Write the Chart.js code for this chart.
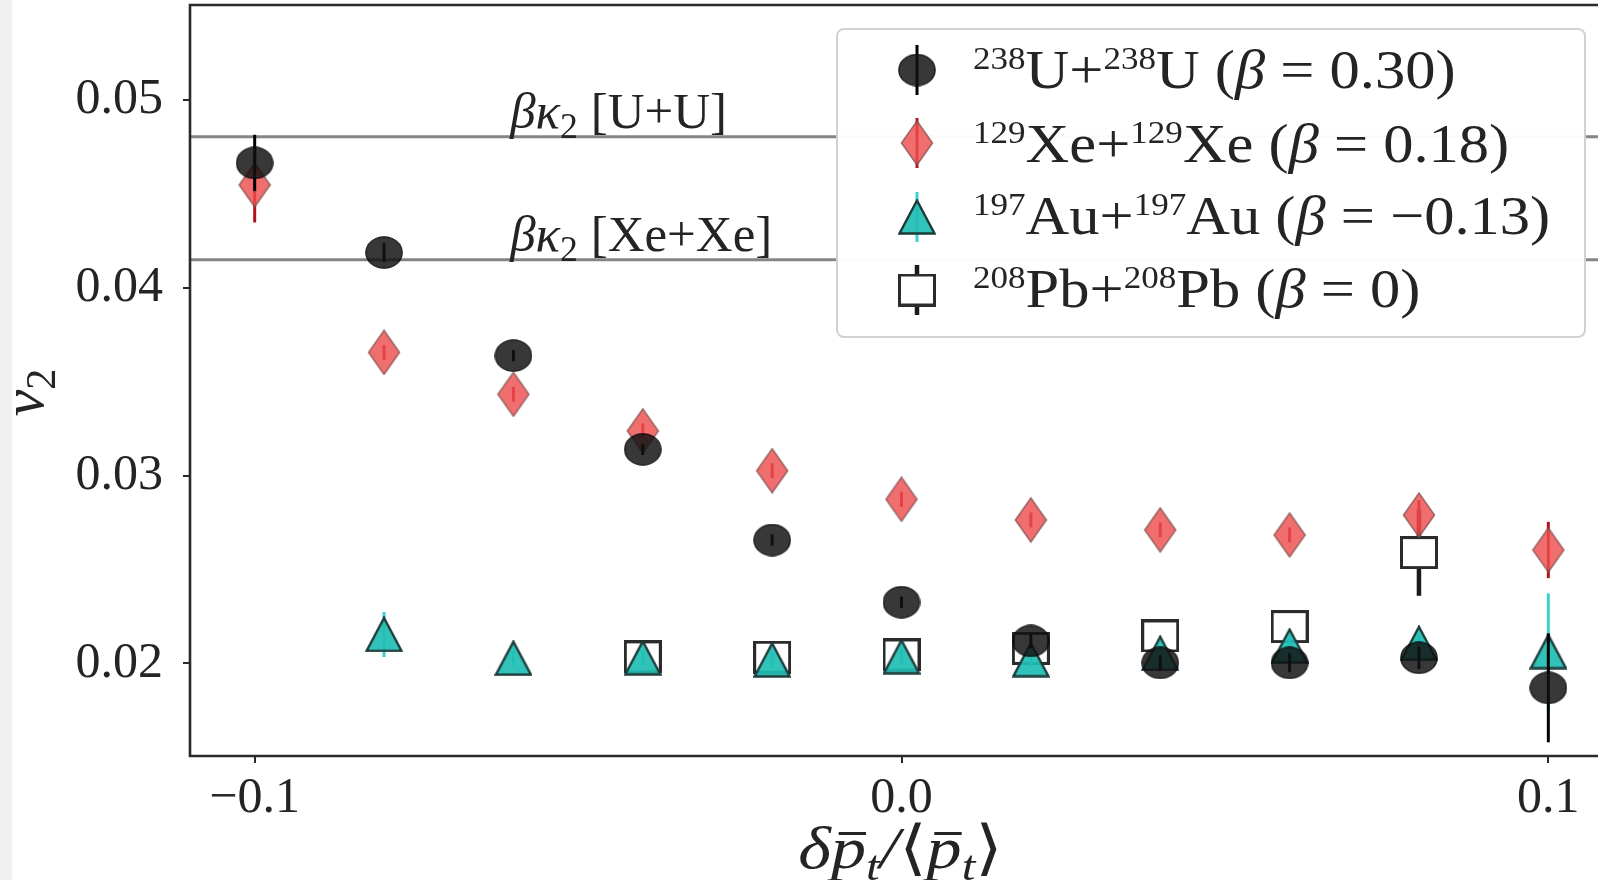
<!DOCTYPE html>
<html><head><meta charset="utf-8">
<script src="https://cdn.jsdelivr.net/npm/chart.js@4.4.0/dist/chart.umd.min.js"></script>
<style>html,body{margin:0;padding:0;overflow:hidden;background:#fff;width:1598px;height:880px}canvas{display:block}</style>
</head><body><canvas id="c" width="1640" height="880"></canvas>
<script>
// ---------------- data ----------------
const xValues = [-0.1, -0.08, -0.06, -0.04, -0.02, 0.0, 0.02, 0.04, 0.06, 0.08, 0.1];
const uuV2  = [0.04665, 0.04188, 0.03639, 0.0314, 0.02657, 0.02326, 0.0212, 0.02003, 0.02003, 0.0203, 0.0187];
const uuErr = [0.0015, 0.0005, 0.0003, 0.0003, 0.0003, 0.0003, 0.0004, 0.0004, 0.0005, 0.0006, 0.0029];
const xeV2  = [0.04548, 0.03656, 0.03433, 0.03238, 0.03026, 0.02874, 0.02764, 0.02711, 0.02684, 0.0279, 0.02604];
const xeErr = [0.002, 0.0004, 0.0004, 0.0004, 0.0004, 0.0004, 0.0004, 0.0004, 0.0004, 0.0008, 0.0015];
const auV2  = [null, 0.02154, 0.02028, 0.0203, 0.02019, 0.02036, 0.0202, 0.02054, 0.02093, 0.02107, 0.02063];
const auErr = [null, 0.0012, 0.0004, 0.0004, 0.0004, 0.0004, 0.0004, 0.0004, 0.0004, 0.0005, 0.0031];
const pbV2  = [null, null, null, 0.02035, 0.02033, 0.02045, 0.0208, 0.02146, 0.02196, 0.0259, null];
const pbErr = [null, null, null, 0.0003, 0.0003, 0.0003, 0.0003, 0.0004, 0.0004, 0.0023, null];
const kappaLines = [0.04805, 0.04149];
const kappaNames = ['U+U', 'Xe+Xe'];
const massNumbers = ['238', '129', '197', '208'];
const elements = ['U', 'Xe', 'Au', 'Pb'];
const betas = ['0.30', '0.18', '\u22120.13', '0'];
const xTicks = [-0.1, 0.0, 0.1];
const xTickLabels = ['\u22120.1', '0.0', '0.1'];
const yTicks = [0.02, 0.03, 0.04, 0.05];
const yTickLabels = ['0.02', '0.03', '0.04', '0.05'];
const xRange = [-0.11, 0.11];
const yRange = [0.01507, 0.05506];

// ---------------- marker images ----------------
function mk(w, h, draw) {
  const c = document.createElement('canvas');
  c.width = w; c.height = h;
  draw(c.getContext('2d'), w, h);
  return c;
}
const mCircle = mk(38, 33, (g, w, h) => {
  g.beginPath(); g.ellipse(w/2, h/2, w/2 - 0.8, h/2 - 0.8, 0, 0, 2*Math.PI);
  g.fillStyle = 'rgba(18,18,18,0.84)'; g.fill();
  g.lineWidth = 1.2; g.strokeStyle = 'rgba(10,10,10,0.9)'; g.stroke();
});
const mDiamond = mk(34, 46, (g, w, h) => {
  g.beginPath(); g.moveTo(w/2, 1); g.lineTo(w-1.5, h/2); g.lineTo(w/2, h-1); g.lineTo(1.5, h/2); g.closePath();
  g.fillStyle = 'rgba(238,78,78,0.82)'; g.fill();
  g.lineWidth = 1.6; g.strokeStyle = 'rgba(130,80,80,0.75)'; g.stroke();
});
const mTriangle = mk(38, 36, (g, w, h) => {
  g.beginPath(); g.moveTo(w/2, 1.5); g.lineTo(w-1.5, h-1.5); g.lineTo(1.5, h-1.5); g.closePath();
  g.fillStyle = 'rgba(32,190,180,0.92)'; g.fill();
  g.lineWidth = 2.4; g.lineJoin = 'miter'; g.strokeStyle = '#1c3c3a'; g.stroke();
});
const mSquare = mk(38, 33, (g, w, h) => {
  g.fillStyle = '#ffffff'; g.fillRect(1.5, 1.5, w-3, h-3);
  g.lineWidth = 3; g.strokeStyle = '#2b2b2b'; g.strokeRect(1.5, 1.5, w-3, h-3);
});

function pts(vals, errs) {
  const out = [];
  xValues.forEach((x, i) => { if (vals[i] !== null) out.push({x: x, y: vals[i], e: errs[i]}); });
  return out;
}
function scatterSet(label, vals, errs, marker, errColor, errWidth) {
  return { label, data: pts(vals, errs), pointStyle: marker, pointRadius: 18, pointHoverRadius: 18,
    errColor, errWidth, backgroundColor: 'transparent', borderColor: 'transparent' };
}
function hline(v) {
  return { type: 'line', data: [{x: xRange[0], y: v}, {x: xRange[1], y: v}], borderColor: '#858585',
    borderWidth: 3, pointRadius: 0, fill: false };
}

const FONT = '"Liberation Serif", "DejaVu Serif", serif';
const TXT = '#242424';

function richRun(ctx, x, y, parts, base, sx, doDraw) {
  ctx.save(); ctx.translate(x, y); ctx.scale(sx, 1);
  let cx = 0;
  for (const p of parts) {
    const size = base * (p.s || 1);
    ctx.font = (p.it ? 'italic ' : '') + size.toFixed(1) + 'px ' + FONT;
    const dy = (p.dy || 0) * base;
    const w = ctx.measureText(p.t).width;
    if (doDraw) {
      ctx.fillText(p.t, cx, dy);
      if (p.bar) ctx.fillRect(cx + w * 0.22, dy - base * 0.6, w * 0.78, base * 0.05);
    }
    cx += w + (p.k || 0) * base;
  }
  ctx.restore();
  return cx * sx;
}
function drawRich(ctx, x, y, parts, base, sx, align) {
  sx = sx || 1;
  let w = richRun(ctx, 0, 0, parts, base, sx, false);
  let x0 = align === 'center' ? x - w/2 : x;
  richRun(ctx, x0, y, parts, base, sx, true);
  return w;
}
const SUP = {s: 0.58, dy: -0.34};
const SUB = {s: 0.7, dy: 0.2};

// ---------------- plugins ----------------
const bgPlugin = {
  id: 'bg',
  beforeDraw(chart) {
    const ctx = chart.ctx;
    ctx.save();
    ctx.fillStyle = '#ffffff'; ctx.fillRect(0, 0, chart.width, chart.height);
    ctx.fillStyle = '#eef1f0'; ctx.fillRect(0, 0, 12, chart.height);
    ctx.restore();
  }
};
const errorBars = {
  id: 'errorBars',
  beforeDatasetDraw(chart, args) {
    const ds = chart.data.datasets[args.index];
    if (!ds.errColor) return;
    const ctx = chart.ctx, xs = chart.scales.x, ys = chart.scales.y;
    ctx.save();
    ctx.strokeStyle = ds.errColor; ctx.lineWidth = ds.errWidth;
    ds.data.forEach(p => {
      const px = xs.getPixelForValue(p.x);
      ctx.beginPath();
      ctx.moveTo(px, ys.getPixelForValue(p.y - p.e));
      ctx.lineTo(px, ys.getPixelForValue(p.y + p.e));
      ctx.stroke();
    });
    ctx.restore();
  }
};
const lineLabels = {
  id: 'lineLabels',
  afterDatasetsDraw(chart) {
    const ctx = chart.ctx, xs = chart.scales.x, ys = chart.scales.y;
    ctx.save(); ctx.fillStyle = TXT; ctx.textBaseline = 'alphabetic';
    kappaLines.forEach((v, i) => {
      const parts = [{t: '\u03b2', it: true}, {t: '\u03ba', it: true}, Object.assign({t: '2'}, SUB), {t: ' [' + kappaNames[i] + ']'}];
      drawRich(ctx, xs.getPixelForValue(-0.0605), ys.getPixelForValue(v) - 9, parts, 50, 1.02, 'left');
    });
    ctx.restore();
  }
};
const framePlugin = {
  id: 'frame',
  afterDatasetsDraw(chart) {
    const a = chart.chartArea, ctx = chart.ctx;
    ctx.save(); ctx.strokeStyle = '#2a2a2a'; ctx.lineWidth = 2.6;
    ctx.beginPath();
    ctx.moveTo(a.right, a.top); ctx.lineTo(a.left, a.top); ctx.lineTo(a.left, a.bottom); ctx.lineTo(a.right, a.bottom);
    ctx.stroke(); ctx.restore();
  }
};
const legendPlugin = {
  id: 'customLegend',
  afterDraw(chart) {
    const ctx = chart.ctx;
    ctx.save();
    ctx.beginPath(); ctx.roundRect(837, 29, 748, 308, 7);
    ctx.fillStyle = 'rgba(255,255,255,0.97)'; ctx.fill();
    ctx.lineWidth = 2; ctx.strokeStyle = '#d2d2d2'; ctx.stroke();
    const sets = chart.data.datasets.filter(d => d.errColor);
    const markerY = [70, 143, 217, 290];
    const baseY = [88, 161.5, 234, 306.5];
    sets.forEach((ds, i) => {
      const mx = 917, my = markerY[i];
      ctx.strokeStyle = ds.errColor; ctx.lineWidth = ds.errWidth;
      ctx.beginPath(); ctx.moveTo(mx, my - 25); ctx.lineTo(mx, my + 25); ctx.stroke();
      const im = ds.pointStyle;
      ctx.drawImage(im, mx - im.width/2, my - im.height/2);
      ctx.fillStyle = TXT;
      const parts = [Object.assign({t: massNumbers[i]}, SUP), {t: elements[i]}, {t: '+'},
        Object.assign({t: massNumbers[i]}, SUP), {t: elements[i]}, {t: ' ('}, {t: '\u03b2', it: true},
        {t: ' = ' + betas[i] + ')'}];
      drawRich(ctx, 973, baseY[i], parts, 55, 1.1, 'left');
    });
    ctx.restore();
  }
};
const axisTitles = {
  id: 'axisTitles',
  afterDraw(chart) {
    const ctx = chart.ctx, a = chart.chartArea;
    ctx.save(); ctx.fillStyle = TXT;
    const xp = [{t: '\u03b4', it: true}, {t: 'p', it: true, bar: true}, Object.assign({t: 't', it: true}, SUB),
      {t: '/', it: true}, {t: '\u27e8'}, {t: 'p', it: true, bar: true}, Object.assign({t: 't', it: true}, SUB), {t: '\u27e9'}];
    drawRich(ctx, (a.left + a.right) / 2 - 1, 868, xp, 60, 1.17, 'center');
    ctx.translate(43, (a.top + a.bottom) / 2 + 12);
    ctx.rotate(-Math.PI / 2);
    const yp = [{t: 'v', it: true}, Object.assign({t: '2'}, SUB)];
    drawRich(ctx, 0, 0, yp, 60, 1.0, 'center');
    ctx.restore();
  }
};

function build() {
  new Chart(document.getElementById('c'), {
    type: 'scatter',
    data: {
      datasets: [
        scatterSet('U+U', uuV2, uuErr, mCircle, '#000000', 3),
        scatterSet('Xe+Xe', xeV2, xeErr, mDiamond, '#b3121f', 3),
        scatterSet('Au+Au', auV2, auErr, mTriangle, '#3fcfcf', 3),
        scatterSet('Pb+Pb', pbV2, pbErr, mSquare, '#1a1a1a', 4.5),
        hline(kappaLines[0]),
        hline(kappaLines[1])
      ]
    },
    options: {
      responsive: false, animation: false, devicePixelRatio: 1,
      layout: { autoPadding: false, padding: { left: 0, top: 5, right: 27, bottom: 0 } },
      plugins: { legend: { display: false }, tooltip: { enabled: false } },
      events: [],
      scales: {
        x: {
          type: 'linear', min: xRange[0], max: xRange[1],
          afterFit(s) { s.height = 124; s.paddingLeft = 0; s.paddingRight = 0; },
          afterBuildTicks(s) { s.ticks = xTicks.map(v => ({ value: v })); },
          grid: { drawOnChartArea: false, drawTicks: true, tickLength: 7, color: '#2a2a2a', lineWidth: 2 },
          border: { display: false },
          ticks: { font: { family: FONT, size: 50 }, color: TXT, padding: 6, maxRotation: 0,
            callback(v) { const i = xTicks.indexOf(v); return i >= 0 ? xTickLabels[i] : ''; } }
        },
        y: {
          type: 'linear', min: yRange[0], max: yRange[1],
          afterFit(s) { s.width = 190; s.paddingTop = 0; s.paddingBottom = 0; },
          afterBuildTicks(s) { s.ticks = yTicks.map(v => ({ value: v })); },
          grid: { drawOnChartArea: false, drawTicks: true, tickLength: 7, color: '#2a2a2a', lineWidth: 2 },
          border: { display: false },
          ticks: { font: { family: FONT, size: 50 }, color: TXT, padding: 20,
            callback(v) { const i = yTicks.indexOf(v); return i >= 0 ? yTickLabels[i] : ''; } }
        }
      }
    },
    plugins: [bgPlugin, errorBars, lineLabels, framePlugin, legendPlugin, axisTitles]
  });
}
Promise.all([
  document.fonts.load('50px "Liberation Serif"'),
  document.fonts.load('italic 50px "Liberation Serif"')
]).then(build, build);
</script></body></html>
